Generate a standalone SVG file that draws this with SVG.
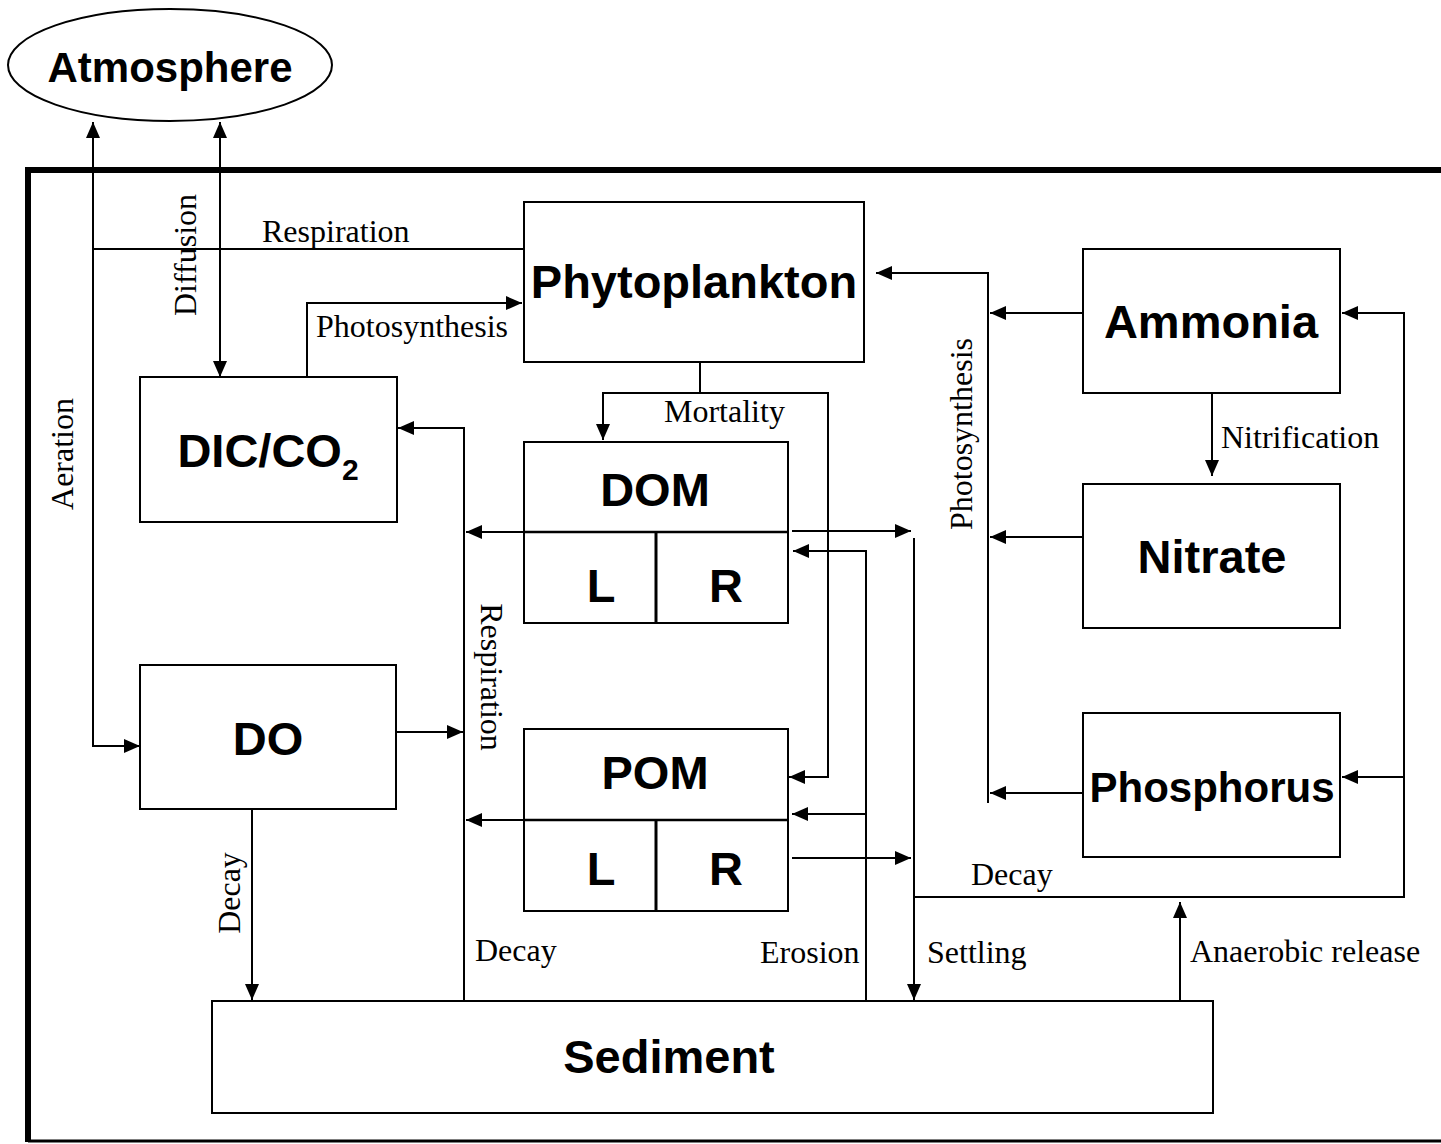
<svg xmlns="http://www.w3.org/2000/svg" width="1441" height="1144" viewBox="0 0 1441 1144">
<style>
.box{fill:#fff;stroke:#000;stroke-width:2}
.ln{fill:none;stroke:#000;stroke-width:2}
.ar{fill:none;stroke:#000;stroke-width:2;marker-end:url(#ah)}
.nb{font-family:"Liberation Sans",Arial,sans-serif;font-weight:bold;font-size:47px;fill:#000;text-anchor:middle}
.lb{font-family:"Liberation Serif","Times New Roman",serif;font-size:32px;fill:#000}
.mid{text-anchor:middle}
</style>
<defs>
<marker id="ah" markerUnits="userSpaceOnUse" markerWidth="16" markerHeight="14" refX="16" refY="7" orient="auto-start-reverse">
<path d="M0,0 L16,7 L0,14 z" fill="#000"/>
</marker>
</defs>
<rect width="1441" height="1144" fill="#fff"/>
<g id="frame">
<path d="M28,1142 V170 H1441" fill="none" stroke="#000" stroke-width="6"/>
<path d="M28,1141 H1441" fill="none" stroke="#000" stroke-width="3"/>
</g>
<g id="atmosphere">
<ellipse cx="170" cy="65" rx="162" ry="56" class="box"/>
<text x="170" y="82" class="nb" style="font-size:42px">Atmosphere</text>
</g>
<g id="phytoplankton">
<rect x="524" y="202" width="340" height="160" class="box"/>
<text x="694" y="298" class="nb">Phytoplankton</text>
</g>
<g id="dic">
<rect x="140" y="377" width="257" height="145" class="box"/>
<text x="268" y="467" class="nb">DIC/CO<tspan style="font-size:30px" dy="13">2</tspan></text>
</g>
<g id="dom">
<rect x="524" y="442" width="264" height="181" class="box"/>
<path d="M524,532 H788" class="ln" style="stroke-width:2.5"/>
<path d="M656,532 V623" class="ln" style="stroke-width:3"/>
<text x="655" y="506" class="nb">DOM</text>
<text x="601" y="602" class="nb">L</text>
<text x="726" y="602" class="nb">R</text>
</g>
<g id="pom">
<rect x="524" y="729" width="264" height="182" class="box"/>
<path d="M524,820 H788" class="ln" style="stroke-width:2.5"/>
<path d="M656,820 V911" class="ln" style="stroke-width:3"/>
<text x="655" y="789" class="nb">POM</text>
<text x="601" y="885" class="nb">L</text>
<text x="726" y="885" class="nb">R</text>
</g>
<g id="do">
<rect x="140" y="665" width="256" height="144" class="box"/>
<text x="268" y="755" class="nb">DO</text>
</g>
<g id="ammonia">
<rect x="1083" y="249" width="257" height="144" class="box"/>
<text x="1211" y="338" class="nb">Ammonia</text>
</g>
<g id="nitrate">
<rect x="1083" y="484" width="257" height="144" class="box"/>
<text x="1212" y="573" class="nb">Nitrate</text>
</g>
<g id="phosphorus">
<rect x="1083" y="713" width="257" height="144" class="box"/>
<text x="1212" y="802" class="nb" style="font-size:42px">Phosphorus</text>
</g>
<g id="sediment">
<rect x="212" y="1001" width="1001" height="112" class="box"/>
<text x="669" y="1073" class="nb">Sediment</text>
</g>
<g id="connectors">
<path d="M93,122 V746 H140" class="ar" style="marker-start:url(#ah)"/>
<path d="M523,249 H93" class="ln"/>
<path d="M220,122 V377" class="ar" style="marker-start:url(#ah)"/>
<path d="M307,377 V303 H522" class="ar"/>
<path d="M700,362 V393 H603 V440" class="ar"/>
<path d="M700,393 H828 V777 H789" class="ar"/>
<path d="M464,1001 V428 H398" class="ar"/>
<path d="M396,732 H463" class="ar"/>
<path d="M524,532 H466" class="ar"/>
<path d="M524,820 H466" class="ar"/>
<path d="M792,531 H911" class="ar"/>
<path d="M792,858 H911" class="ar"/>
<path d="M914,538 V1000" class="ar"/>
<path d="M866,1001 V551 H793" class="ar"/>
<path d="M866,814 H792" class="ar"/>
<path d="M914,897 H1404 V313 H1342" class="ar"/>
<path d="M1404,777 H1342" class="ar"/>
<path d="M1180,1001 V902" class="ar"/>
<path d="M988,803 V273 H876" class="ar"/>
<path d="M1083,313 H990" class="ar"/>
<path d="M1083,537 H990" class="ar"/>
<path d="M1083,793 H990" class="ar"/>
<path d="M1212,394 V476" class="ar"/>
<path d="M252,809 V1000" class="ar"/>
<text x="262" y="242" class="lb">Respiration</text>
<text transform="translate(196,255) rotate(-90)" class="lb mid">Diffusion</text>
<text transform="translate(73,454) rotate(-90)" class="lb mid">Aeration</text>
<text x="316" y="337" class="lb">Photosynthesis</text>
<text x="664" y="422" class="lb">Mortality</text>
<text transform="translate(481,677) rotate(90)" class="lb mid">Respiration</text>
<text transform="translate(240,893) rotate(-90)" class="lb mid">Decay</text>
<text x="475" y="961" class="lb">Decay</text>
<text x="760" y="963" class="lb">Erosion</text>
<text x="927" y="963" class="lb">Settling</text>
<text x="1190" y="962" class="lb">Anaerobic release</text>
<text x="971" y="885" class="lb">Decay</text>
<text x="1221" y="448" class="lb">Nitrification</text>
<text transform="translate(972,434) rotate(-90)" class="lb mid">Photosynthesis</text>
</g>
</svg>
